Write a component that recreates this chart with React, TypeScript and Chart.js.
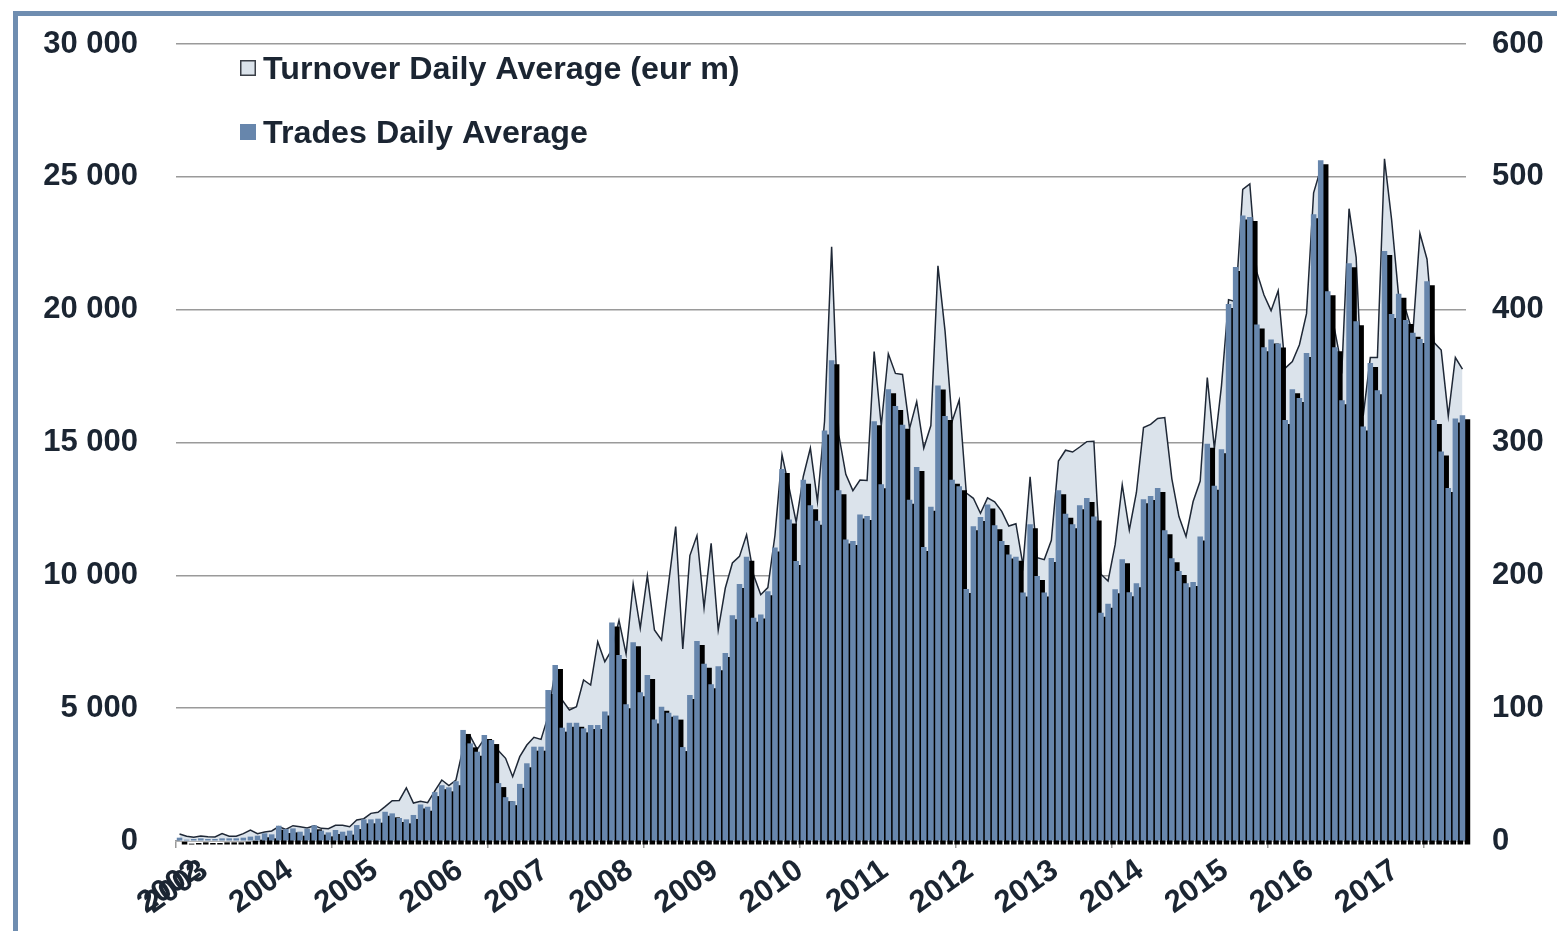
import React, { useEffect, useRef } from 'react';
import { Chart, registerables } from 'chart.js';

Chart.register(...registerables);

// Monthly turnover daily average (eur m), left axis
const turnover: number[] = [
  263, 176, 137, 188, 163, 150, 276, 176, 176, 276,
  414, 276, 339, 376, 539, 439, 577, 539, 489, 577,
  477, 464, 590, 590, 539, 790, 840, 1041, 1079, 1292,
  1518, 1525, 2000, 1430, 1500, 1443, 1880, 2296, 2090, 2296,
  3500, 3950, 3450, 3850, 3700, 3400, 3112, 2421, 3174, 3614,
  3902, 3826, 4700, 6436, 5300, 4931, 5056, 6060, 5872, 7502,
  6749, 7200, 8308, 7047, 9674, 8017, 9985, 7942, 7566, 9700,
  11838, 7227, 10743, 11495, 8781, 11202, 7942, 9523, 10464, 10712,
  11525, 10000, 9271, 9540, 11500, 14537, 13300, 12000, 13720, 14790,
  12780, 15800, 22370, 15300, 13800, 13190, 13590, 13570, 18420, 15630,
  18340, 17600, 17560, 15530, 16540, 14790, 15640, 21650, 19200, 15800,
  16600, 13100, 12900, 12335, 12914, 12767, 12406, 11857, 11943, 10374,
  13712, 10667, 10592, 11318, 14300, 14709, 14642, 14830, 15033, 15050,
  10042, 9786, 11153, 13411, 11706, 13118, 15560, 15681, 15903, 15937,
  13633, 12214, 11461, 12779, 13550, 17442, 14777, 17134, 20378, 20295,
  24530, 24737, 21400, 20551, 19962, 20714, 17800, 18050, 18680, 19850,
  24400, 25300, 20500, 19200, 17800, 23800, 21970, 16000, 18195, 18195,
  25678, 23400, 20500, 20000, 19098, 22870, 21900, 18760, 18480, 16000,
  18200, 17760,
];

// Monthly trades daily average (thousands), right axis
const trades: number[] = [
  2.5, 1, 1.5, 2, 1.5, 1.5, 2, 2, 2, 2.5,
  3.3, 4, 5.8, 5, 11.5, 9, 9.5, 7, 9.3, 11.8,
  7.8, 6.5, 8.3, 7, 7.8, 12, 16.3, 16.3, 16.8, 22,
  20.8, 17.3, 16.3, 19.6, 27.5, 25.8, 36.8, 42, 40.4, 45,
  83.6, 73.5, 67.2, 79.8, 76, 43.6, 33, 30, 43, 58.5,
  71, 71, 113.7, 132.5, 85.3, 89, 89, 84.8, 87.3, 87.3,
  97.4, 164.4, 140, 103, 149.6, 112, 125, 91.5, 101, 96.5,
  94.4, 70.7, 110, 150.6, 133.5, 118, 131.5, 141.5, 170, 193.5,
  214, 168, 170.6, 188, 221, 280, 242, 210.8, 272, 252.8,
  241, 309, 362, 264, 227, 225.8, 245.8, 244.7, 316, 268.5,
  340, 327.5, 313.4, 256.9, 281.6, 221.3, 251.6, 343, 320, 272,
  267, 189.7, 237, 244, 253.4, 237.7, 225.8, 215.6, 213.9, 187,
  238.5, 199.5, 187, 213, 264, 246.3, 238.5, 252.8, 258.2, 244.3,
  171.9, 178.7, 189.6, 212.2, 187.2, 194, 257.2, 259.7, 265.8, 234,
  212.8, 203.3, 194, 195, 229.2, 299, 267.5, 294.9, 404.2, 432.2,
  470.8, 469.8, 388.8, 371.8, 377.5, 374.5, 317, 340, 333.5, 367.3,
  471.9, 512.5, 413.8, 371.8, 331.8, 435, 391.3, 312, 359.8, 339.3,
  444.2, 396.7, 412, 392.2, 382.7, 378, 421.3, 317, 293.2, 265.8,
  318, 320.5,
];

// One category per month; the axis shows a year label at the listed positions
const categories: string[] = turnover.map((_, i) => `m${i + 1}`);
const yearLabels = ['2002', '2003', '2004', '2005', '2006', '2007', '2008', '2009', '2010', '2011', '2012', '2013', '2014', '2015', '2016', '2017'];
const yearLabelIndex = [0, 1, 13, 25, 37, 49, 61, 73, 85, 97, 109, 121, 133, 145, 157, 169];

const seriesNames = ['Turnover Daily Average (eur m)', 'Trades Daily Average'];
const leftTicks = [0, 5000, 10000, 15000, 20000, 25000, 30000];
const rightTicks = [0, 100, 200, 300, 400, 500, 600];

const FONT = "'Liberation Sans', Arial, Helvetica, sans-serif";
const TEXT = '#1b2532';
const BLUE = '#6786ac';
const AREA = '#dbe3eb';
const GRID = '#9a9a9a';
const CLEAR = 'rgba(0,0,0,0)';

const fmt = (v: number) => String(v).replace(/\B(?=(\d{3})+(?!\d))/g, ' ');

const shadowPlugin = {
  id: 'barShadow',
  beforeDatasetDraw(chart: any, args: any) {
    if (args.meta.type === 'bar') {
      const ctx = chart.ctx;
      ctx.save();
      ctx.shadowColor = '#000000';
      ctx.shadowOffsetX = 5;
      ctx.shadowOffsetY = 4;
      ctx.shadowBlur = 0;
    }
  },
  afterDatasetDraw(chart: any, args: any) {
    if (args.meta.type === 'bar') chart.ctx.restore();
  },
};

const legendPlugin = {
  id: 'customLegend',
  afterDraw(chart: any) {
    const ctx = chart.ctx;
    const ds = chart.data.datasets;
    const items = [
      { label: ds[0].label, fill: ds[0].backgroundColor, stroke: '#3a3f47', y: 60 },
      { label: ds[1].label, fill: ds[1].backgroundColor, stroke: null, y: 124 },
    ];
    items.forEach((it) => {
      ctx.save();
      ctx.fillStyle = it.fill;
      ctx.fillRect(240, it.y, 16, 16);
      if (it.stroke) {
        ctx.strokeStyle = it.stroke;
        ctx.lineWidth = 1.5;
        ctx.strokeRect(240.75, it.y + 0.75, 14.5, 14.5);
      }
      ctx.fillStyle = TEXT;
      ctx.font = `bold 31px ${FONT}`;
      ctx.textAlign = 'left';
      ctx.textBaseline = 'alphabetic';
      ctx.translate(263, it.y + 18.5);
      ctx.scale(1.04, 1);
      ctx.fillText(it.label, 0, 0);
      ctx.restore();
    });
  },
};

export default function App() {
  const canvasRef = useRef<HTMLCanvasElement | null>(null);

  useEffect(() => {
    if (!canvasRef.current) return;
    const chart = new Chart(canvasRef.current, {
      type: 'bar',
      data: {
        labels: categories,
        datasets: [
          {
            type: 'line',
            label: seriesNames[0],
            data: turnover,
            yAxisID: 'y',
            backgroundColor: AREA,
            borderColor: '#1f2836',
            borderWidth: 1.5,
            pointRadius: 0,
            tension: 0,
            fill: 'origin',
            order: 2,
          } as any,
          {
            type: 'bar',
            label: seriesNames[1],
            data: trades,
            yAxisID: 'y1',
            backgroundColor: BLUE,
            borderWidth: 0,
            barPercentage: 0.78,
            categoryPercentage: 1,
            clip: false,
            order: 1,
          } as any,
        ],
      },
      options: {
        responsive: false,
        animation: false,
        devicePixelRatio: 1,
        layout: { padding: { top: 44, left: 0, right: 0, bottom: 0 } },
        plugins: { legend: { display: false }, tooltip: { enabled: false } },
        scales: {
          x: {
            type: 'category',
            offset: true,
            grid: {
              display: true,
              drawOnChartArea: false,
              drawTicks: true,
              tickLength: 7,
              offset: true,
              lineWidth: 1.5,
              color: (c: any) => (c.index % 22 === 0 ? GRID : CLEAR),
            },
            border: { display: true, color: GRID, width: 1.5 },
            ticks: {
              autoSkip: false,
              maxRotation: 35,
              minRotation: 35,
              padding: 4,
              labelOffset: 18,
              color: TEXT,
              font: { family: FONT, size: 31, weight: 'bold' },
              callback: (_v: any, idx: number) => {
                const k = yearLabelIndex.indexOf(idx);
                return k >= 0 ? yearLabels[k] : '';
              },
            },
            afterFit: (s: any) => {
              s.height = 90;
            },
          },
          y: {
            position: 'left',
            min: leftTicks[0],
            max: leftTicks[leftTicks.length - 1],
            afterBuildTicks: (s: any) => {
              s.ticks = leftTicks.map((v) => ({ value: v }));
            },
            ticks: {
              padding: 0,
              color: TEXT,
              font: { family: FONT, size: 31, weight: 'bold' },
              callback: (v: any) => fmt(Number(v)),
            },
            grid: { color: GRID, lineWidth: 1.5, drawTicks: true, tickLength: 38, tickColor: CLEAR },
            border: { display: false },
            afterFit: (s: any) => {
              s.width = 176;
            },
          },
          y1: {
            position: 'right',
            min: rightTicks[0],
            max: rightTicks[rightTicks.length - 1],
            afterBuildTicks: (s: any) => {
              s.ticks = rightTicks.map((v) => ({ value: v }));
            },
            ticks: {
              padding: 0,
              color: TEXT,
              font: { family: FONT, size: 31, weight: 'bold' },
              callback: (v: any) => String(v),
            },
            grid: { display: true, drawOnChartArea: false, drawTicks: true, tickLength: 26, color: CLEAR, tickColor: CLEAR },
            border: { display: false },
            afterFit: (s: any) => {
              s.width = 91;
            },
          },
        },
      } as any,
      plugins: [shadowPlugin, legendPlugin],
    });
    return () => chart.destroy();
  }, []);

  return (
    <div style={{ position: 'absolute', left: 0, top: 0, width: 1557, height: 931, background: '#fff', overflow: 'hidden' }}>
      <div
        style={{
          position: 'absolute',
          left: 13,
          top: 11,
          width: 1600,
          height: 1000,
          borderLeft: '5px solid #6f8db0',
          borderTop: '5px solid #6f8db0',
          boxSizing: 'border-box',
        }}
      />
      <canvas ref={canvasRef} width={1557} height={931} style={{ position: 'absolute', left: 0, top: 0, display: 'block' }} />
    </div>
  );
}
